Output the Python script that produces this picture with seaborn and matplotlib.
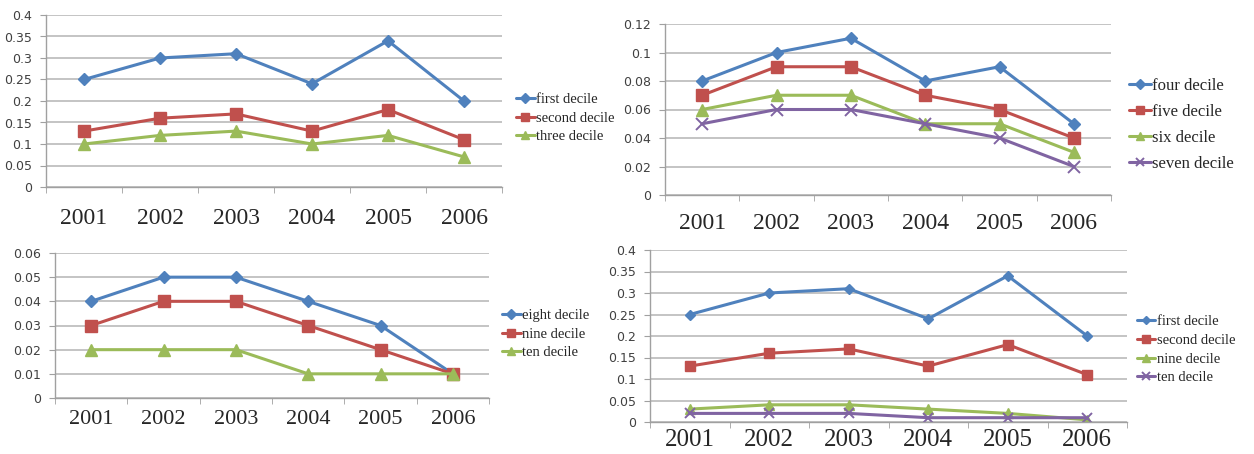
import numpy as np
import pandas as pd
import matplotlib
matplotlib.use('Agg')
import matplotlib.pyplot as plt
from matplotlib.ticker import FixedLocator, FuncFormatter
import seaborn as sns

# Data
years = ['2001', '2002', '2003', '2004', '2005', '2006']

first_decile = [0.25, 0.30, 0.31, 0.24, 0.34, 0.20]
second_decile = [0.13, 0.16, 0.17, 0.13, 0.18, 0.11]
three_decile = [0.10, 0.12, 0.13, 0.10, 0.12, 0.07]

four_decile = [0.08, 0.10, 0.11, 0.08, 0.09, 0.05]
five_decile = [0.07, 0.09, 0.09, 0.07, 0.06, 0.04]
six_decile = [0.06, 0.07, 0.07, 0.05, 0.05, 0.03]
seven_decile = [0.05, 0.06, 0.06, 0.05, 0.04, 0.02]

eight_decile = [0.04, 0.05, 0.05, 0.04, 0.03, 0.01]
nine_decile = [0.03, 0.04, 0.04, 0.03, 0.02, 0.01]
ten_decile = [0.02, 0.02, 0.02, 0.01, 0.01, 0.01]

nine_decile_b = [0.03, 0.04, 0.04, 0.03, 0.02, 0.005]

BLUE = '#4F81BD'
RED = '#C0504D'
GREEN = '#9BBB59'
PURPLE = '#8064A2'

sns.set_style('white')
plt.rcParams['font.family'] = ['Liberation Serif', 'DejaVu Serif']

fig = plt.figure(figsize=(12.54, 4.54), dpi=100)


def panel(rect, series, ymax, ystep, legend_pos, ms, xfont, xpad, lfont, lspace):
    ax = fig.add_axes(rect)
    x = np.arange(len(years))
    for name, vals, color, marker in series:
        df = pd.DataFrame({'x': x, 'y': vals})
        size = ms * 0.75 if marker == 'D' else ms
        sns.lineplot(data=df, x='x', y='y', ax=ax, color=color, marker=marker,
                     markersize=size, markeredgecolor=color,
                     markeredgewidth=1.0 if marker != 'x' else 1.4,
                     linewidth=2.2, label=name)
    ax.set_xlim(-0.5, len(years) - 0.5)
    ax.set_ylim(0, ymax)
    ticks = np.round(np.arange(0, ymax + ystep / 2, ystep), 4)
    ax.set_yticks(ticks)
    ax.yaxis.set_major_formatter(FuncFormatter(lambda v, p: '0' if v == 0 else ('%g' % v)))
    ax.grid(axis='y', color='#BFBFBF', linewidth=1.3)
    ax.set_axisbelow(True)
    ax.set_xticks(x)
    ax.set_xticklabels(years, fontsize=xfont)
    ax.xaxis.set_minor_locator(FixedLocator(np.arange(-0.5, len(years), 1.0)))
    ax.tick_params(axis='x', which='major', length=0, pad=xpad)
    ax.tick_params(axis='x', which='minor', length=4, color='#A0A0A0', direction='out', bottom=True)
    ax.tick_params(axis='y', length=4, color='#A0A0A0', labelsize=9, labelcolor='#404040', left=True, pad=6)
    for lab in ax.get_yticklabels():
        lab.set_family('DejaVu Sans')
    for s in ['top', 'right']:
        ax.spines[s].set_visible(False)
    for s in ['left', 'bottom']:
        ax.spines[s].set_color('#A0A0A0')
        ax.spines[s].set_linewidth(1.0)
    ax.set_xlabel('')
    ax.set_ylabel('')
    ax.legend(loc='center left', bbox_to_anchor=legend_pos, frameon=False,
              fontsize=lfont, handlelength=1.3, handletextpad=0.1, labelspacing=lspace,
              borderaxespad=0, borderpad=0, markerscale=0.8)
    return ax


panel([46 / 1254, 1 - 187 / 454, 456 / 1254, 172 / 454],
      [('first decile', first_decile, BLUE, 'D'),
       ('second decile', second_decile, RED, 's'),
       ('three decile', three_decile, GREEN, '^')],
      0.4, 0.05, (1.03, 0.40), 8, 17, 15, 10.5, 0.35)

panel([665 / 1254, 1 - 195 / 454, 446 / 1254, 171 / 454],
      [('four decile', four_decile, BLUE, 'D'),
       ('five decile', five_decile, RED, 's'),
       ('six decile', six_decile, GREEN, '^'),
       ('seven decile', seven_decile, PURPLE, 'x')],
      0.12, 0.02, (1.04, 0.41), 8, 17, 13, 12, 0.6)

panel([55 / 1254, 1 - 398 / 454, 434 / 1254, 145 / 454],
      [('eight decile', eight_decile, BLUE, 'D'),
       ('nine decile', nine_decile, RED, 's'),
       ('ten decile', ten_decile, GREEN, '^')],
      0.06, 0.01, (1.03, 0.44), 8, 16, 9, 10.5, 0.37)

panel([650 / 1254, 1 - 422 / 454, 477 / 1254, 172 / 454],
      [('first decile', first_decile, BLUE, 'D'),
       ('second decile', second_decile, RED, 's'),
       ('nine decile', nine_decile_b, GREEN, '^'),
       ('ten decile', ten_decile, PURPLE, 'x')],
      0.4, 0.05, (1.02, 0.42), 7, 18, 5, 10.5, 0.37)

fig.savefig('out.png', dpi=100)
